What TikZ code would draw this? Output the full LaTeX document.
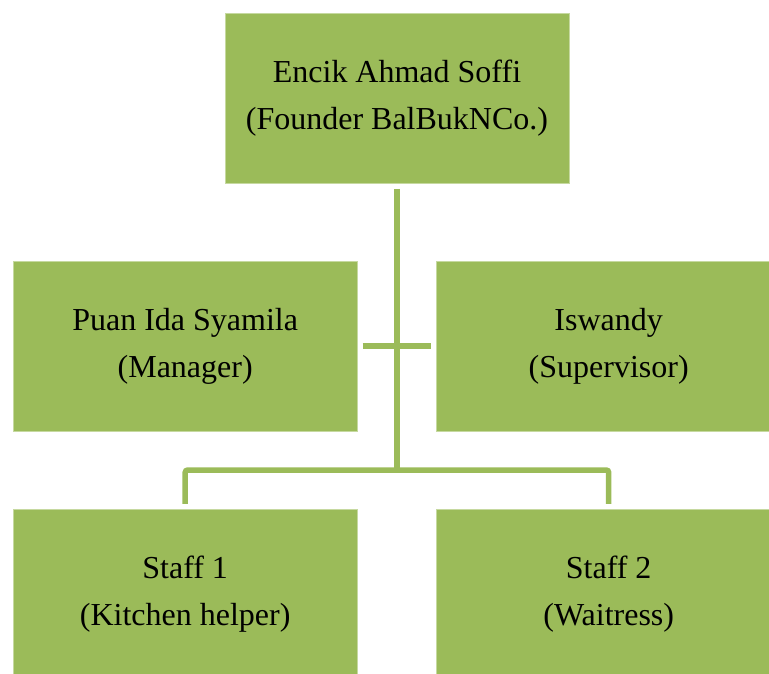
\documentclass[tikz,border=0pt]{standalone}
\usepackage{fontspec}
\setmainfont{Liberation Serif}
\definecolor{boxgreen}{HTML}{9BBB59}
\definecolor{edgegreen}{HTML}{C6D9A0}
\begin{document}
\begin{tikzpicture}[x=1pt,y=-1pt,
  orgbox/.style={rectangle, fill=boxgreen, draw=edgegreen, line width=0.8pt,
    minimum width=344pt, minimum height=170pt, align=center, inner sep=0pt,
    font=\fontsize{32}{47}\selectfont},
  conn/.style={draw=boxgreen, line width=5.5pt}]
\useasboundingbox (0,0) rectangle (769,673);
\clip (0,0) rectangle (769,673);
\node[orgbox] (top) at (397,98.5) {Encik Ahmad Soffi\\(Founder BalBukNCo.)};
\node[orgbox] (ml) at (185.2,346.2) {Puan Ida Syamila\\(Manager)};
\node[orgbox] (mr) at (608.7,346.2) {Iswandy\\(Supervisor)};
\node[orgbox] (bl) at (185.2,594.3) {Staff 1\\(Kitchen helper)};
\node[orgbox] (br) at (608.7,594.3) {Staff 2\\(Waitress)};
\coordinate (hub) at (397,470);
\draw[conn] ([yshift=-5pt]top.south) -- (hub);
\draw[conn] ([xshift=5pt]ml.east) -- ([xshift=-5pt]mr.west);
\draw[conn, rounded corners=2.5pt] ([yshift=5pt]bl.north) |- (hub) -| ([yshift=5pt]br.north);
\end{tikzpicture}
\end{document}
